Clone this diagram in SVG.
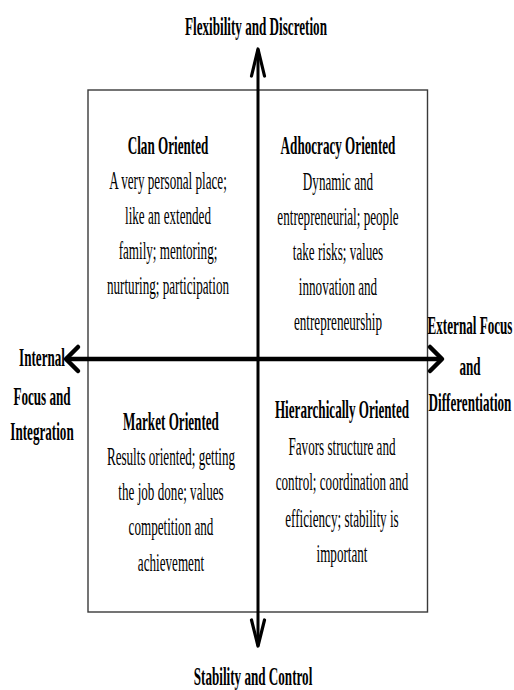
<svg xmlns="http://www.w3.org/2000/svg" width="514" height="690" viewBox="0 0 514 690">
<style>
text{font-family:"Liberation Serif","Times New Roman",serif;font-size:25px;fill:#000;text-anchor:middle}
.b{font-weight:bold}
.ax{fill:none;stroke:#000;stroke-linecap:round;stroke-linejoin:round}
</style>
<rect id="frame" x="88" y="90" width="339.5" height="522" fill="#fff" stroke="#3a3a3a" stroke-width="1.4"/>
<g id="connectors">
<line class="ax" x1="258" y1="50" x2="258" y2="645" stroke-width="3"/>
<polyline class="ax" points="251.5,76 258,49 264.5,76" stroke-width="3.2"/>
<polyline class="ax" points="251.5,620 258,646 264.5,620" stroke-width="3.2"/>
<line class="ax" x1="67" y1="359" x2="441" y2="359" stroke-width="4.5"/>
<polyline class="ax" points="78,347 66,359 78,371" stroke-width="4.5"/>
<polyline class="ax" points="430,347 442,359 430,371" stroke-width="4.5"/>
</g>
<g id="axis-top"><text class="b" transform="translate(256 35) scale(0.525 1)">Flexibility and Discretion</text></g>
<g id="axis-bottom"><text class="b" transform="translate(253 685) scale(0.525 1)">Stability and Control</text></g>
<g id="axis-left">
<text class="b" transform="translate(42 366) scale(0.525 1)">Internal</text>
<text class="b" transform="translate(42 405) scale(0.525 1)">Focus and</text>
<text class="b" transform="translate(42 440) scale(0.525 1)">Integration</text>
</g>
<g id="axis-right">
<text class="b" transform="translate(470 334) scale(0.525 1)">External Focus</text>
<text class="b" transform="translate(470 375) scale(0.525 1)">and</text>
<text class="b" transform="translate(470 411) scale(0.525 1)">Differentiation</text>
</g>
<g id="clan">
<text class="b" transform="translate(168 154) scale(0.525 1)">Clan Oriented</text>
<text transform="translate(168 189) scale(0.525 1)">A very personal place;</text>
<text transform="translate(168 224) scale(0.525 1)">like an extended</text>
<text transform="translate(168 259) scale(0.525 1)">family; mentoring;</text>
<text transform="translate(168 294) scale(0.525 1)">nurturing; participation</text>
</g>
<g id="adhocracy">
<text class="b" transform="translate(338 154) scale(0.525 1)">Adhocracy Oriented</text>
<text transform="translate(338 190) scale(0.525 1)">Dynamic and</text>
<text transform="translate(338 225) scale(0.525 1)">entrepreneurial; people</text>
<text transform="translate(338 260) scale(0.525 1)">take risks; values</text>
<text transform="translate(338 295) scale(0.525 1)">innovation and</text>
<text transform="translate(338 330) scale(0.525 1)">entrepreneurship</text>
</g>
<g id="market">
<text class="b" transform="translate(171 430) scale(0.525 1)">Market Oriented</text>
<text transform="translate(171 465) scale(0.525 1)">Results oriented; getting</text>
<text transform="translate(171 500) scale(0.525 1)">the job done; values</text>
<text transform="translate(171 535) scale(0.525 1)">competition and</text>
<text transform="translate(171 571) scale(0.525 1)">achievement</text>
</g>
<g id="hierarchy">
<text class="b" transform="translate(342 418) scale(0.525 1)">Hierarchically Oriented</text>
<text transform="translate(342 455) scale(0.525 1)">Favors structure and</text>
<text transform="translate(342 490) scale(0.525 1)">control; coordination and</text>
<text transform="translate(342 527) scale(0.525 1)">efficiency; stability is</text>
<text transform="translate(342 562) scale(0.525 1)">important</text>
</g>
</svg>
